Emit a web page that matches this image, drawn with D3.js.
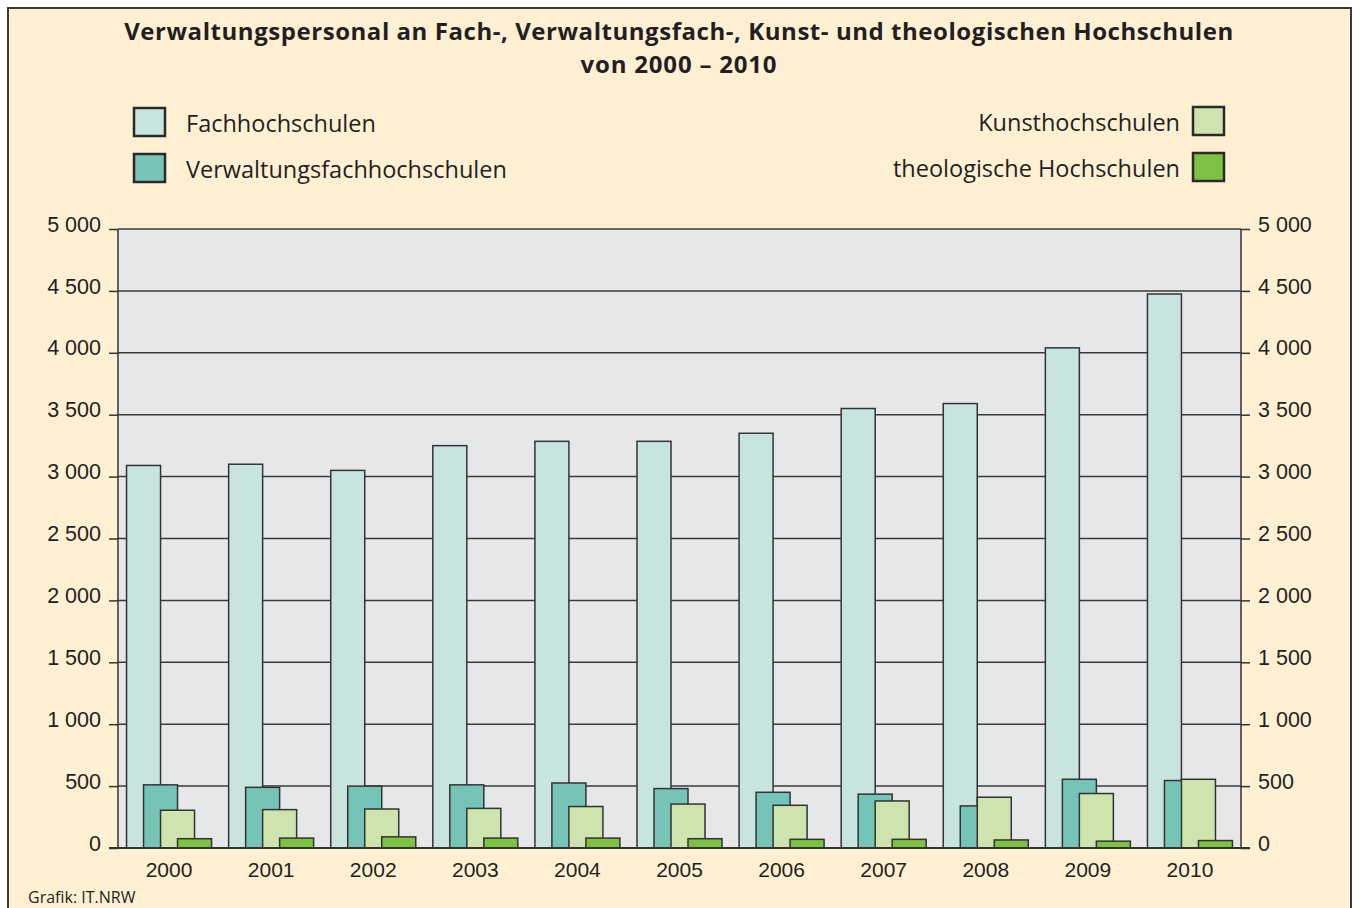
<!DOCTYPE html>
<html><head><meta charset="utf-8">
<script src="https://cdn.jsdelivr.net/npm/d3@7"></script>
<style>
html,body{margin:0;padding:0;background:#fff;}
svg{display:block;font-family:"Open Sans","Noto Sans",sans-serif;}
</style></head>
<body>
<svg id="chart" width="1360" height="908"></svg>
<script>
const years = ["2000","2001","2002","2003","2004","2005","2006","2007","2008","2009","2010"];
const fachhochschulen = [3090,3100,3050,3250,3285,3285,3350,3550,3590,4040,4475];
const verwaltungsfh = [510,490,500,510,525,480,450,435,340,555,545];
const kunsthochschulen = [305,310,315,320,335,355,345,380,410,440,555];
const theologische = [75,80,90,80,80,75,70,70,65,55,60];
const yTicks = [0,500,1000,1500,2000,2500,3000,3500,4000,4500,5000];
const seriesNames = ["Fachhochschulen","Verwaltungsfachhochschulen","Kunsthochschulen","theologische Hochschulen"];
const seriesColors = ["#c7e4df","#76c4b7","#cde4ae","#7dc242"];
const titleLines = ["Verwaltungspersonal an Fach-, Verwaltungsfach-, Kunst- und theologischen Hochschulen","von 2000 – 2010"];
const sourceText = "Grafik: IT.NRW";

const svg = d3.select("#chart");
const ink = "#231f20";

// frame
svg.append("rect").attr("x",8).attr("y",8).attr("width",1343).attr("height",920)
  .attr("fill","#fff0d4").attr("stroke","#3a3a3a").attr("stroke-width",2);

const L=118, R=1241, T=229, B=848;
const x = d3.scaleBand().domain(years).range([L,R]).paddingInner(0).paddingOuter(0);
const y = d3.scaleLinear().domain([0,5000]).range([B,T]);
const bw = 34, step = 17;
const barStart = d => x(d) + (x.bandwidth() - (bw + 3*step))/2;

// plot background
svg.append("rect").attr("x",L).attr("y",T).attr("width",R-L).attr("height",B-T).attr("fill","#e6e7e9");

// gridlines
svg.append("g").selectAll("line").data(yTicks.filter(v=>v>0)).join("line")
  .attr("x1",L).attr("x2",R).attr("y1",d=>y(d)).attr("y2",d=>y(d))
  .attr("stroke","#3a3a3a").attr("stroke-width",1.5);

// bars
const allSeries = [fachhochschulen, verwaltungsfh, kunsthochschulen, theologische];
allSeries.forEach((vals,i)=>{
  svg.append("g").selectAll("rect").data(years).join("rect")
    .attr("x",d=>barStart(d)+i*step)
    .attr("y",(d,j)=>y(vals[j]))
    .attr("width",bw)
    .attr("height",(d,j)=>y(0)-y(vals[j]))
    .attr("fill",seriesColors[i])
    .attr("stroke","#333").attr("stroke-width",1.5);
});

// plot frame lines
svg.append("line").attr("x1",L).attr("x2",L).attr("y1",T).attr("y2",B).attr("stroke","#333").attr("stroke-width",1.5);
svg.append("line").attr("x1",R).attr("x2",R).attr("y1",T).attr("y2",B).attr("stroke","#333").attr("stroke-width",1.5);

// axes
const fmt = v => d3.format(",")(v).replace(/,/g," ");
const leftAxis = d3.axisLeft(y).tickValues(yTicks).tickSize(9).tickPadding(8).tickFormat(fmt);
const rightAxis = d3.axisRight(y).tickValues(yTicks).tickSize(9).tickPadding(8).tickFormat(fmt);
const gl = svg.append("g").attr("transform",`translate(${L},0)`).call(leftAxis);
const gr = svg.append("g").attr("transform",`translate(${R},0)`).call(rightAxis);
[gl,gr].forEach(g=>{
  g.select(".domain").remove();
  g.selectAll(".tick line").attr("stroke","#333").attr("stroke-width",1.5);
  g.selectAll(".tick text").attr("fill",ink).style("font-size","21.5px").attr("dy","0.1em");
});
// baseline
svg.append("line").attr("x1",L-9).attr("x2",R+9).attr("y1",B).attr("y2",B).attr("stroke","#333").attr("stroke-width",2);

// x axis labels
const xAxis = d3.axisBottom(x).tickSize(0).tickPadding(14);
const gx = svg.append("g").attr("transform",`translate(0,${B})`).call(xAxis);
gx.select(".domain").remove();
gx.selectAll(".tick text").attr("fill",ink).style("font-size","21px");

// title
svg.append("g").selectAll("text").data(titleLines).join("text")
  .attr("x",679).attr("y",(d,i)=>40+i*33).attr("text-anchor","middle")
  .attr("fill",ink).style("font-size","24px").style("font-weight","bold")
  .attr("letter-spacing",(d,i)=>i===0?"0.55px":"0.8px").text(d=>d);

// legend
const leg = [
  {i:0, sx:134, sy:108, tx:186, anchor:"start"},
  {i:1, sx:134, sy:154, tx:186, anchor:"start"},
  {i:2, sx:1193, sy:107, tx:1180, anchor:"end"},
  {i:3, sx:1193, sy:153, tx:1180, anchor:"end"}
];
const lg = svg.append("g").selectAll("g").data(leg).join("g");
lg.append("rect").attr("x",d=>d.sx).attr("y",d=>d.sy).attr("width",31).attr("height",28)
  .attr("fill",d=>seriesColors[d.i]).attr("stroke","#2a2a2a").attr("stroke-width",2.5);
lg.append("text").attr("x",d=>d.tx).attr("y",d=>d.sy+24).attr("text-anchor",d=>d.anchor)
  .attr("fill",ink).style("font-size","23.5px").text(d=>seriesNames[d.i]);

// source
svg.append("text").attr("x",28).attr("y",903).attr("fill",ink).style("font-size","16px").text(sourceText);
</script>
</body></html>
